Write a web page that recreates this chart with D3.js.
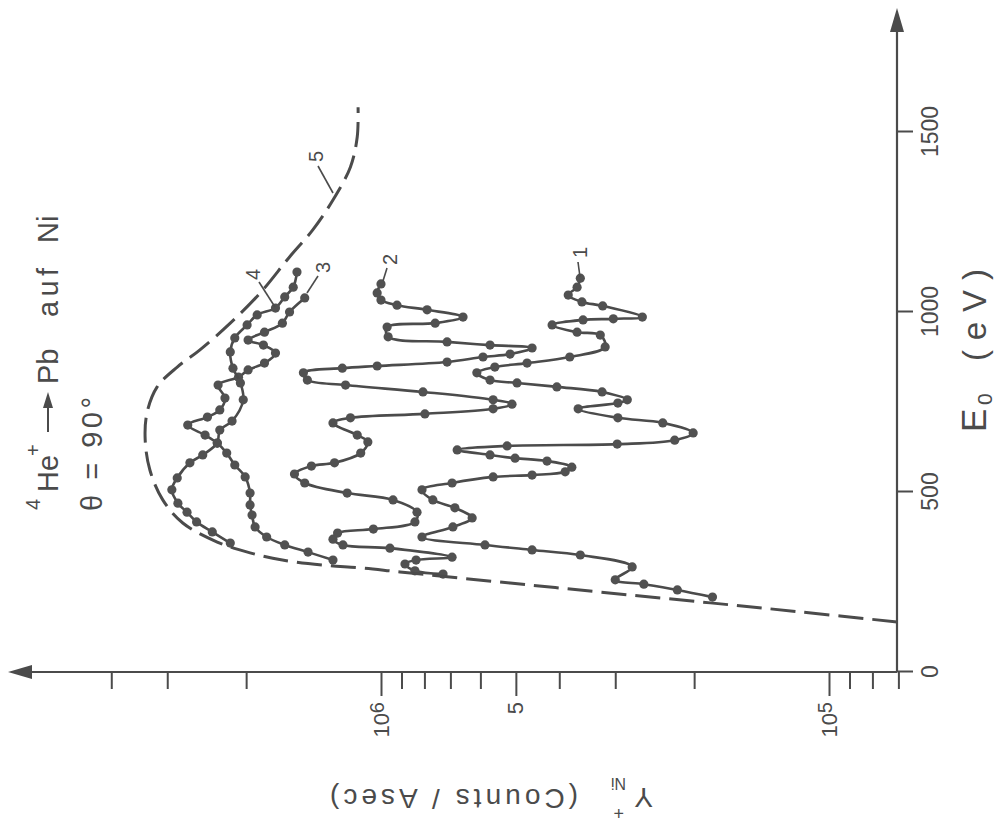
<!DOCTYPE html>
<html>
<head>
<meta charset="utf-8">
<script src="https://cdn.jsdelivr.net/npm/d3@7"></script>
<style>
  body { margin: 0; background: #fff; }
  svg { display: block; background: #fff; }
  text { font-family: "Liberation Sans", Arial, sans-serif; }
</style>
</head>
<body>
<svg id="chart" width="1000" height="825"></svg>
<script>
// E0 in eV, yield in counts / Asec
const e1 = [208, 228, 244, 256, 292, 325, 339, 353, 375, 403, 428, 456, 478, 506, 525, 542, 547, 556, 569, 586,
            594, 603, 617, 628, 633, 644, 664, 692, 706, 731, 747, 756, 778, 792, 803, 811, 831, 847, 858, 875,
            903, 936, 944, 964, 978, 981, 986, 1017, 1028, 1047, 1069, 1094];
const y1 = [1.82e5, 2.18e5, 2.59e5, 3.00e5, 2.75e5, 3.59e5, 4.60e5, 5.86e5, 8.10e5, 6.91e5, 6.26e5, 6.84e5, 7.66e5,
            8.10e5, 6.94e5, 5.62e5, 4.60e5, 3.88e5, 3.75e5, 4.26e5, 5.02e5, 5.71e5, 6.76e5, 5.23e5, 2.97e5, 2.21e5,
            2.01e5, 2.35e5, 2.96e5, 3.63e5, 2.96e5, 2.82e5, 3.21e5, 4.05e5, 4.97e5, 5.71e5, 6.11e5, 5.57e5, 4.72e5,
            3.79e5, 3.16e5, 3.24e5, 3.65e5, 4.15e5, 3.54e5, 3.03e5, 2.61e5, 3.20e5, 3.56e5, 3.82e5, 3.65e5, 3.59e5];

const e2 = [272, 281, 300, 311, 319, 344, 353, 369, 386, 397, 417, 444, 478, 497, 525, 550, 572, 581, 608, 639,
            658, 692, 706, 717, 731, 744, 756, 778, 797, 811, 831, 844, 850, 861, 875, 883, 900, 908, 917, 931,
            958, 969, 986, 1006, 1019, 1033, 1053, 1078];
const y2 = [7.27e5, 8.40e5, 8.84e5, 8.35e5, 6.94e5, 9.55e5, 1.216e6, 1.28e6, 1.25e6, 1.04e6, 8.40e5, 8.31e5, 9.40e5,
            1.19e6, 1.48e6, 1.56e6, 1.43e6, 1.27e6, 1.11e6, 1.07e6, 1.13e6, 1.28e6, 1.17e6, 7.98e5, 5.62e5, 5.10e5,
            5.62e5, 8.06e5, 1.20e6, 1.46e6, 1.49e6, 1.22e6, 1.02e6, 7.12e5, 5.92e5, 5.15e5, 4.60e5, 5.71e5, 7.12e5,
            9.64e5, 9.69e5, 7.57e5, 6.56e5, 7.89e5, 9.21e5, 1.00e6, 1.02e6, 1.00e6];

const e3 = [311, 333, 353, 375, 403, 436, 464, 497, 542, 575, 608, 636, 658, 686, 708, 728, 761, 797, 819, 839,
            858, 886, 908, 922, 944, 969, 1000, 1039];
const y3 = [1.28e6, 1.455e6, 1.64e6, 1.80e6, 1.91e6, 1.94e6, 1.96e6, 1.96e6, 2.01e6, 2.12e6, 2.21e6, 2.32e6, 2.47e6,
            2.70e6, 2.44e6, 2.29e6, 2.23e6, 2.31e6, 2.08e6, 1.98e6, 1.82e6, 1.72e6, 1.83e6, 1.98e6, 1.82e6, 1.66e6,
            1.60e6, 1.48e6];

const e4 = [358, 389, 417, 444, 469, 506, 539, 581, 603, 636, 672, 697, 756, 803, 844, 889, 928, 964, 992, 1011,
            1042, 1069, 1111];
const y4 = [2.17e6, 2.38e6, 2.58e6, 2.71e6, 2.84e6, 2.93e6, 2.85e6, 2.67e6, 2.50e6, 2.32e6, 2.29e6, 2.15e6, 2.03e6,
            2.06e6, 2.14e6, 2.17e6, 2.12e6, 1.99e6, 1.89e6, 1.72e6, 1.64e6, 1.57e6, 1.54e6];

// curve 5, dashed, no markers
const e5 = [139, 167, 192, 222, 247, 278, 289, 297, 311, 331, 361, 414, 478, 561, 644, 719, 792, 847, 894, 969,
            1053, 1153, 1228, 1311, 1403, 1486, 1569];
const y5 = [7.05e4, 1.16e5, 1.84e5, 3.24e5, 5.15e5, 9.07e5, 1.10e6, 1.35e6, 1.66e6, 1.96e6, 2.32e6, 2.77e6, 3.07e6,
            3.28e6, 3.36e6, 3.33e6, 3.16e6, 2.85e6, 2.54e6, 2.17e6, 1.86e6, 1.60e6, 1.42e6, 1.28e6, 1.17e6, 1.13e6,
            1.125e6];

const eTicks = [0, 500, 1000, 1500];
const majorTicks = [1e5, 5e5, 1e6];
const minorTicks = [7e4, 8e4, 9e4, 2e5, 3e5, 4e5, 6e5, 7e5, 8e5, 9e5, 2e6, 3e6, 4e6];
const curveNames = ["1", "2", "3", "4", "5"];

const H = 825;
const ink = "#4b4b4b";
const font = "Liberation Sans, Arial, sans-serif";

const svg = d3.select("#chart");

// the figure is printed turned by 90 degrees, so draw it upright and turn the group
const g = svg.append("g").attr("transform", `translate(0,${H}) rotate(-90)`);

const x = d3.scaleLinear().domain([0, 1500]).range([153, 693]);
const y = d3.scaleLog().domain([1e5, 1e6]).range([829, 381]);
const P = (ix, iy) => [H - iy, ix]; // picture pixel -> group coords

// E0 axis
let eAxis = g.append("g")
    .attr("transform", "translate(0,897)")
    .call(d3.axisBottom(x).tickValues(eTicks).tickSize(16).tickPadding(9).tickFormat(d3.format("d")))
    .attr("font-family", font).attr("font-size", 23);
eAxis.select(".domain").remove();
eAxis.selectAll("line").attr("stroke", ink).attr("stroke-width", 2);
eAxis.selectAll("text").attr("fill", ink);

g.append("line")
    .attr("x1", x(0)).attr("x2", 800).attr("y1", 897).attr("y2", 897)
    .attr("stroke", ink).attr("stroke-width", 2.2);
g.append("path")
    .attr("d", "M817,897 L793,890 L793,904 Z")
    .attr("fill", ink);

// yield axis
let cMinor = g.append("g")
    .attr("transform", `translate(${x(0)},0)`)
    .call(d3.axisLeft(y).tickValues(minorTicks).tickSize(17).tickFormat(""));
cMinor.select(".domain").remove();
cMinor.selectAll("line").attr("stroke", ink).attr("stroke-width", 2);

let cMajor = g.append("g")
    .attr("transform", `translate(${x(0)},0)`)
    .call(d3.axisLeft(y).tickValues(majorTicks).tickSize(24).tickPadding(6))
    .attr("font-family", font).attr("font-size", 22);
cMajor.select(".domain").remove();
cMajor.selectAll("line").attr("stroke", ink).attr("stroke-width", 2);
cMajor.selectAll("text")
    .attr("fill", ink)
    .each(function(d) {
        let t = d3.select(this).text(null);
        if (d === 5e5) {
            t.text("5");
            return;
        }
        t.append("tspan").text("10");
        t.append("tspan").attr("dy", "-0.25em").attr("font-size", 20).text(Math.round(Math.log10(d)));
    });

g.append("line")
    .attr("x1", x(0)).attr("x2", x(0)).attr("y1", 28).attr("y2", 897)
    .attr("stroke", ink).attr("stroke-width", 2.2);
g.append("path")
    .attr("d", `M${x(0)},8 L${x(0) - 7},32 L${x(0) + 7},32 Z`)
    .attr("fill", ink);

// curves
const line = d3.line()
    .x(d => x(d[0]))
    .y(d => y(d[1]))
    .curve(d3.curveCatmullRom.alpha(0.5));

const series = [d3.zip(e1, y1), d3.zip(e2, y2), d3.zip(e3, y3), d3.zip(e4, y4)];

series.forEach(s => {
    g.append("path")
        .datum(s)
        .attr("d", line)
        .attr("fill", "none")
        .attr("stroke", ink)
        .attr("stroke-width", 2.6);
    g.append("g")
        .selectAll("circle")
        .data(s)
        .join("circle")
        .attr("cx", d => x(d[0]))
        .attr("cy", d => y(d[1]))
        .attr("r", 4.6)
        .attr("fill", "#515151");
});

g.append("path")
    .datum(d3.zip(e5, y5))
    .attr("d", line)
    .attr("fill", "none")
    .attr("stroke", ink)
    .attr("stroke-width", 3)
    .attr("stroke-dasharray", "25,9");

// curve numbers with their leader lines (picture pixels)
const labelPos = [[587, 258], [397, 265], [330, 273], [260, 280], [323, 162]];
const leaders = [[[578, 262], [580, 277]], [[387, 268], [383, 281]], [[318, 276], [307, 293]],
                 [[259, 282], [275, 307]], [[318, 166], [333, 193]]];

curveNames.forEach((n, i) => {
    let p = P(labelPos[i][0], labelPos[i][1]);
    g.append("text")
        .attr("x", p[0]).attr("y", p[1])
        .attr("font-size", 20)
        .attr("fill", ink)
        .text(n);
    let a = P(...leaders[i][0]), b = P(...leaders[i][1]);
    g.append("line")
        .attr("x1", a[0]).attr("y1", a[1]).attr("x2", b[0]).attr("y2", b[1])
        .attr("stroke", ink).attr("stroke-width", 1.6);
});

// title
const title = g.append("g").attr("fill", ink).attr("font-family", font);
title.append("text").attr("x", 315).attr("y", 40).attr("font-size", 20).text("4");
title.append("text").attr("x", 333).attr("y", 58).attr("font-size", 29).text("He");
title.append("text").attr("x", 369).attr("y", 40).attr("font-size", 20).text("+");
title.append("line")
    .attr("x1", 393).attr("x2", 420).attr("y1", 48).attr("y2", 48)
    .attr("stroke", ink).attr("stroke-width", 2);
title.append("path").attr("d", "M433,48 L417,43 L417,53 Z");
title.append("text").attr("x", 441).attr("y", 58).attr("font-size", 29).text("Pb");
title.append("text").attr("x", 508).attr("y", 58).attr("font-size", 29)
    .attr("textLength", 49).attr("lengthAdjust", "spacing").text("auf");
title.append("text").attr("x", 582).attr("y", 58).attr("font-size", 29).text("Ni");
title.append("text").attr("x", 314).attr("y", 102).attr("font-size", 29)
    .attr("textLength", 114).attr("lengthAdjust", "spacing").text("\u03b8 = 90\u00b0");

// E0 axis title
const eTitle = g.append("g").attr("fill", ink).attr("font-family", font);
eTitle.append("text").attr("x", 393).attr("y", 986).attr("font-size", 35).text("E");
eTitle.append("text").attr("x", 420).attr("y", 992).attr("font-size", 21).text("0");
eTitle.append("text").attr("x", 464).attr("y", 986).attr("font-size", 33)
    .attr("textLength", 92).attr("lengthAdjust", "spacing").text("(eV)");

// yield axis title, upside down in the print
const yTitle = svg.append("g").attr("fill", ink).attr("font-family", font);
yTitle.append("text").attr("transform", "translate(653,788) rotate(180)").attr("font-size", 28).text("Y");
yTitle.append("text").attr("transform", "translate(626,778) rotate(180)").attr("font-size", 16).text("Ni");
yTitle.append("text").attr("transform", "translate(624,807) rotate(180)").attr("font-size", 18).text("+");
yTitle.append("text").attr("transform", "translate(578,789) rotate(180)").attr("font-size", 28)
    .attr("textLength", 248).attr("lengthAdjust", "spacing").text("(Counts / Asec)");
</script>
</body>
</html>
